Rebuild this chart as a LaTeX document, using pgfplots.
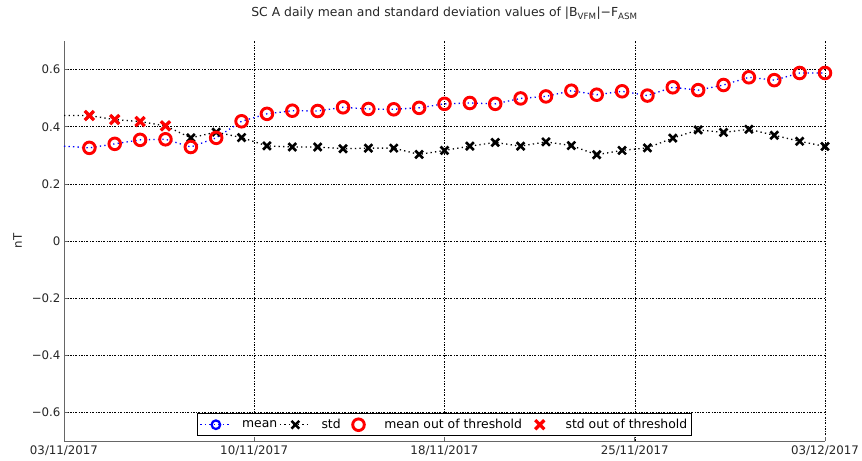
\documentclass[border=0pt]{standalone}
\usepackage{pgfplots}
\pgfplotsset{compat=1.18}
\usepackage{fontspec}
\setmainfont{DejaVu Sans}
\usetikzlibrary{calc}
\pgfplotsset{
  lline/.style={legend image code/.code={\draw[mark repeat=2,mark phase=2,##1] plot coordinates {(0pt,0pt)(15.5pt,0pt)(31pt,0pt)};}},
  lmean/.style={legend image code/.code={\draw[##1] (0pt,0pt) -- (31pt,0pt); \draw[solid, blue, line width=2.2pt] (15.5pt,0pt) circle[radius=4.3pt];}},
  lmark/.style={legend image code/.code={\path (0pt,0pt) (31pt,0pt); \draw[##1] plot coordinates {(15.5pt,0pt)};}},
}
\pgfplotstableread{
x mean std
0 0.332 0.439
1 0.326 0.439
2 0.340 0.425
3 0.354 0.418
4 0.356 0.403
5 0.329 0.361
6 0.361 0.381
7 0.419 0.362
8 0.445 0.333
9 0.456 0.329
10 0.455 0.329
11 0.468 0.323
12 0.462 0.325
13 0.461 0.325
14 0.466 0.303
15 0.480 0.317
16 0.483 0.332
17 0.480 0.345
18 0.499 0.332
19 0.506 0.347
20 0.526 0.334
21 0.512 0.302
22 0.524 0.317
23 0.509 0.326
24 0.538 0.360
25 0.528 0.389
26 0.546 0.380
27 0.573 0.391
28 0.563 0.370
29 0.588 0.349
30 0.588 0.331
}\data
\pgfplotstableread{
x mean
1 0.326
2 0.340
3 0.354
4 0.356
5 0.329
6 0.361
7 0.419
8 0.445
9 0.456
10 0.455
11 0.468
12 0.462
13 0.461
14 0.466
15 0.480
16 0.483
17 0.480
18 0.499
19 0.506
20 0.526
21 0.512
22 0.524
23 0.509
24 0.538
25 0.528
26 0.546
27 0.573
28 0.563
29 0.588
30 0.588
}\meanout
\pgfplotstableread{
x std
1 0.439
2 0.425
3 0.418
4 0.403
}\stdout
\begin{document}
\begin{tikzpicture}
\begin{axis}[
  scale only axis, width=761pt, height=400pt,
  xmin=0, xmax=30, ymin=-0.7, ymax=0.7,
  axis lines*=left,
  axis line style={-, draw=black!60, line width=0.8pt},
  tick align=inside,
  tick style={draw=black!60, line width=0.6pt},
  major tick length=4pt,
  xtick={0,7.5,15,22.5,30},
  xticklabels={03/11/2017,10/11/2017,18/11/2017,25/11/2017,03/12/2017},
  ytick={-0.6,-0.4,-0.2,0,0.2,0.4,0.6},
  yticklabels={−0.6,−0.4,−0.2,0,0.2,0.4,0.6},
  grid=major,
  major grid style={draw=black, line width=0.5pt, dash pattern=on 2pt off 1.5pt on 0.6pt off 1.5pt},
  ticklabel style={font=\fontsize{11.8}{13}\selectfont, text=black!85},
  xticklabel style={yshift=-1pt},
  ylabel={nT},
  ylabel style={at={(axis description cs:-0.061,0.5)}, anchor=center, font=\fontsize{11.8}{13}\selectfont, text=black!85},
  title={SC A daily mean and standard deviation values of |B\textsubscript{VFM}|−F\textsubscript{ASM}},
  title style={at={(axis description cs:0.5,1)}, anchor=base, yshift=18pt, font=\fontsize{12.4}{14}\selectfont, text=black!85},
  clip=false,
  legend columns=-1,
  legend style={at={(axis description cs:0.5,0)}, anchor=south, yshift=5pt, draw=black, line width=0.6pt, fill=white,
    font=\fontsize{12.4}{14}\selectfont, inner xsep=2pt, inner ysep=3.5pt,
    /tikz/every odd column/.append style={column sep=8pt}},
]
\coordinate (bl) at (rel axis cs:0,0);
\coordinate (tr) at (rel axis cs:1,1);
\addplot[blue, line width=1.3pt, dash pattern=on 1.3pt off 3.2pt, mark=none, lmean]
  table[x=x, y=mean] {\data};
\addlegendentry{mean}
\addplot[black, line width=1.3pt, dash pattern=on 1.3pt off 3.2pt, mark=x, mark size=5.5pt, mark repeat=1, mark phase=2, mark options={solid, line width=2.6pt}, lline]
  table[x=x, y=std] {\data};
\addlegendentry{std}
\addplot[only marks, red, mark=o, mark size=5.8pt, mark options={solid, line width=2.9pt, fill=none}, lmark]
  table[x=x, y=mean] {\meanout};
\addlegendentry{mean out of threshold}
\addplot[only marks, red, mark=x, mark size=6.5pt, mark options={solid, line width=3.2pt}, lmark]
  table[x=x, y=std] {\stdout};
\addlegendentry{std out of threshold}
\end{axis}
\pgfresetboundingbox
\path[use as bounding box] ($(bl)+(-64pt,-20pt)$) rectangle ($(tr)+(37pt,41pt)$);
\end{tikzpicture}
\end{document}
